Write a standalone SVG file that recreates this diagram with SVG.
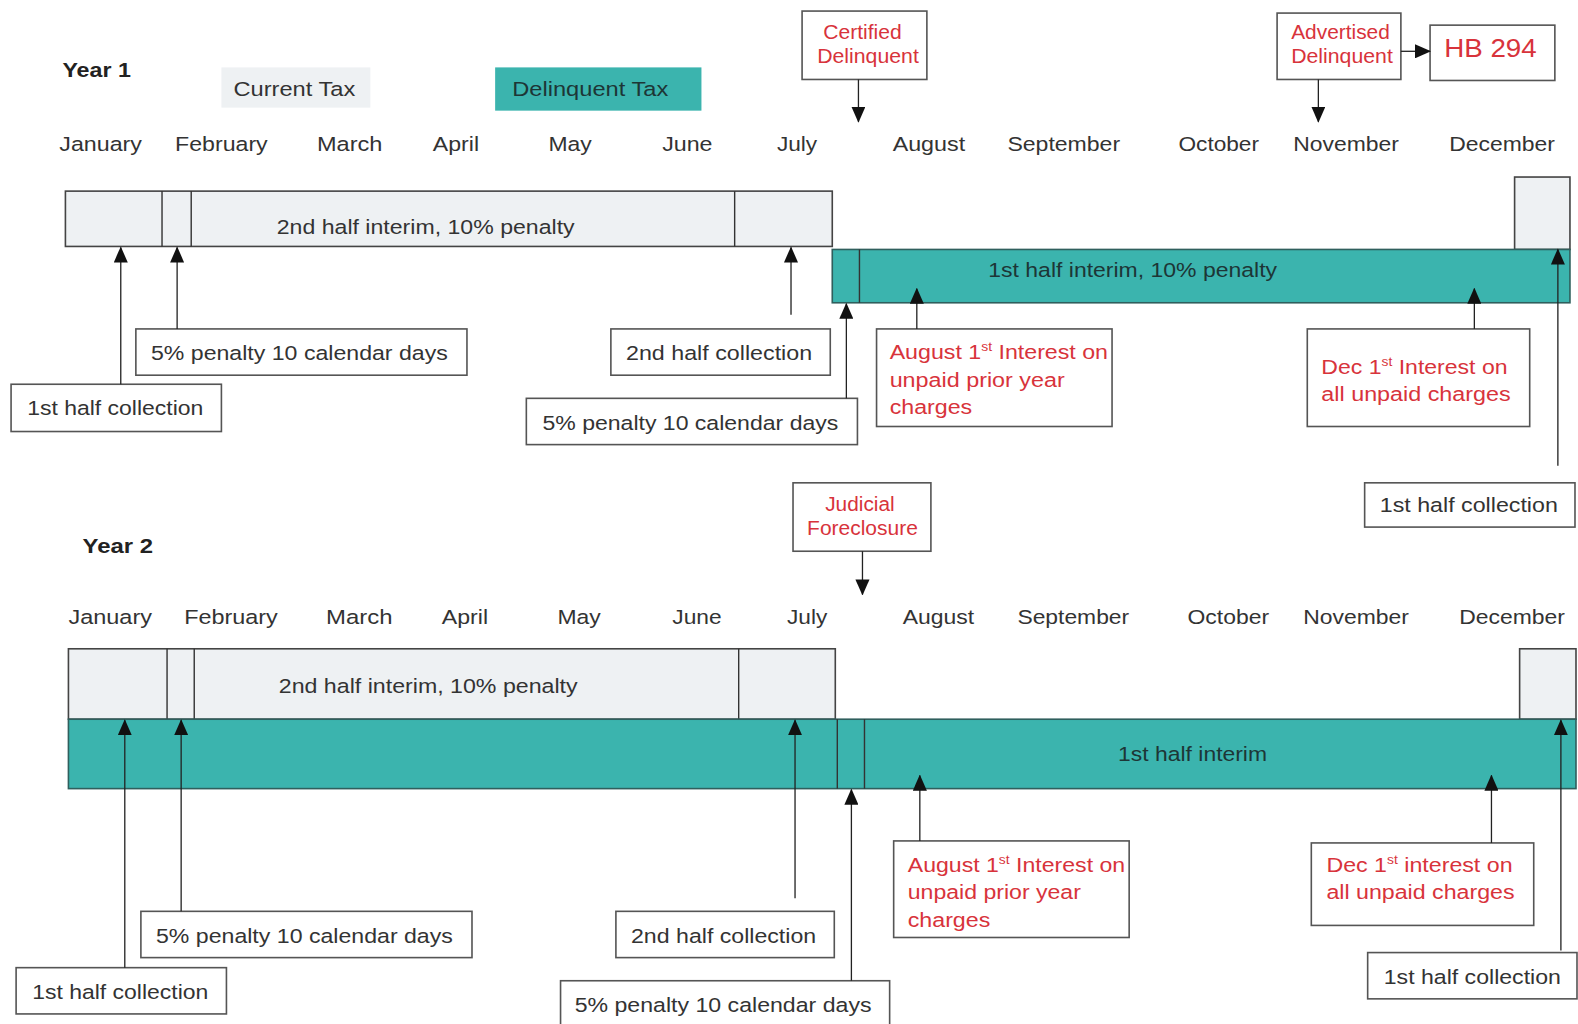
<svg xmlns="http://www.w3.org/2000/svg" width="1578" height="1024" viewBox="0 0 1578 1024">
<defs>
<marker id="ah" markerUnits="userSpaceOnUse" markerWidth="16" markerHeight="14" refX="15" refY="7" orient="auto" viewBox="0 0 16 14">
<path d="M0,0 L16,7 L0,14 Z" fill="#111"/>
</marker>
</defs>
<style>
text{font-family:"Liberation Sans",Arial,sans-serif;fill:#333;}
.m{font-size:21px;}
.t{font-size:21px;}
.r{font-size:20px;fill:#d8333b;}
.y{font-size:20px;font-weight:bold;fill:#222;}
.box{fill:#fff;stroke:#555;stroke-width:1.6;}
.lt{fill:#eef1f3;stroke:#444;stroke-width:1.6;}
.tl{fill:#3bb4ae;stroke:#2f5f5d;stroke-width:1.6;}
.dv{stroke:#333;stroke-width:1.4;}
.c{stroke:#222;stroke-width:1.3;fill:none;}
.sup{font-size:12px;}
</style>
<rect width="1578" height="1024" fill="#fff"/>
<g transform="scale(1.00638,1.00589)">
<!-- Year 1 -->
<g id="year1-label"><text class="y" x="62" y="77" textLength="68" lengthAdjust="spacingAndGlyphs">Year 1</text></g>
<g id="legend-current"><rect x="220" y="67" width="148" height="40" fill="#eef1f3"/><text class="t" x="232" y="95" textLength="121" lengthAdjust="spacingAndGlyphs">Current Tax</text></g>
<g id="legend-delinquent"><rect x="492" y="67" width="205" height="43" fill="#3bb4ae"/><text class="t" x="509" y="95" textLength="155" lengthAdjust="spacingAndGlyphs" style="fill:#1d3636">Delinquent Tax</text></g>
<g id="certified"><rect class="box" x="797" y="11" width="124" height="68"/><text class="r" x="818" y="39" textLength="78" lengthAdjust="spacingAndGlyphs">Certified</text><text class="r" x="812" y="63" textLength="101" lengthAdjust="spacingAndGlyphs">Delinquent</text></g>
<g id="advertised"><rect class="box" x="1269" y="13" width="123" height="66"/><text class="r" x="1283" y="39" textLength="98" lengthAdjust="spacingAndGlyphs">Advertised</text><text class="r" x="1283" y="63" textLength="101" lengthAdjust="spacingAndGlyphs">Delinquent</text></g>
<g id="hb294"><rect class="box" x="1421" y="25" width="124" height="55"/><text class="r" x="1435" y="57" textLength="92" lengthAdjust="spacingAndGlyphs" style="font-size:26px">HB 294</text></g>
<g id="months1">
<text class="m" x="59" y="150" textLength="82" lengthAdjust="spacingAndGlyphs">January</text>
<text class="m" x="174" y="150" textLength="92" lengthAdjust="spacingAndGlyphs">February</text>
<text class="m" x="315" y="150" textLength="65" lengthAdjust="spacingAndGlyphs">March</text>
<text class="m" x="430" y="150" textLength="46" lengthAdjust="spacingAndGlyphs">April</text>
<text class="m" x="545" y="150" textLength="43" lengthAdjust="spacingAndGlyphs">May</text>
<text class="m" x="658" y="150" textLength="50" lengthAdjust="spacingAndGlyphs">June</text>
<text class="m" x="772" y="150" textLength="40" lengthAdjust="spacingAndGlyphs">July</text>
<text class="m" x="887" y="150" textLength="72" lengthAdjust="spacingAndGlyphs">August</text>
<text class="m" x="1001" y="150" textLength="112" lengthAdjust="spacingAndGlyphs">September</text>
<text class="m" x="1171" y="150" textLength="80" lengthAdjust="spacingAndGlyphs">October</text>
<text class="m" x="1285" y="150" textLength="105" lengthAdjust="spacingAndGlyphs">November</text>
<text class="m" x="1440" y="150" textLength="105" lengthAdjust="spacingAndGlyphs">December</text>
</g>
<g id="bar1-second-half">
<rect class="lt" x="65" y="190" width="762" height="55"/>
<line class="dv" x1="161" y1="190" x2="161" y2="245"/><line class="dv" x1="190" y1="190" x2="190" y2="245"/><line class="dv" x1="730" y1="190" x2="730" y2="245"/>
<text class="t" x="275" y="233" textLength="296" lengthAdjust="spacingAndGlyphs">2nd half interim, 10% penalty</text>
</g>
<g id="bar1-dec"><rect class="lt" x="1505" y="176" width="55" height="72"/></g>
<g id="bar1-first-half">
<rect class="tl" x="827" y="248" width="733" height="53"/>
<line class="dv" x1="854" y1="248" x2="854" y2="301"/>
<text class="t" x="982" y="275" textLength="287" lengthAdjust="spacingAndGlyphs" style="fill:#1d3636">1st half interim, 10% penalty</text>
</g>
<g id="y1-penalty-a"><rect class="box" x="135" y="327" width="329" height="46"/><text class="t" x="150" y="358" textLength="295" lengthAdjust="spacingAndGlyphs">5% penalty 10 calendar days</text></g>
<g id="y1-first-collection"><rect class="box" x="11" y="382" width="209" height="47"/><text class="t" x="27" y="413" textLength="175" lengthAdjust="spacingAndGlyphs">1st half collection</text></g>
<g id="y1-second-collection"><rect class="box" x="607" y="327" width="218" height="46"/><text class="t" x="622" y="358" textLength="185" lengthAdjust="spacingAndGlyphs">2nd half collection</text></g>
<g id="y1-penalty-b"><rect class="box" x="523" y="396" width="329" height="46"/><text class="t" x="539" y="427" textLength="294" lengthAdjust="spacingAndGlyphs">5% penalty 10 calendar days</text></g>
<g id="y1-august"><rect class="box" x="871" y="327" width="234" height="97"/>
<text class="r" x="884" y="357" textLength="217" lengthAdjust="spacingAndGlyphs">August 1<tspan class="sup" dy="-8">st</tspan><tspan dy="8"> Interest on</tspan></text>
<text class="r" x="884" y="385" textLength="174" lengthAdjust="spacingAndGlyphs">unpaid prior year</text>
<text class="r" x="884" y="412" textLength="82" lengthAdjust="spacingAndGlyphs">charges</text></g>
<g id="y1-dec"><rect class="box" x="1299" y="327" width="221" height="97"/>
<text class="r" x="1313" y="372" textLength="185" lengthAdjust="spacingAndGlyphs">Dec 1<tspan class="sup" dy="-8">st</tspan><tspan dy="8"> Interest on</tspan></text>
<text class="r" x="1313" y="399" textLength="188" lengthAdjust="spacingAndGlyphs">all unpaid charges</text></g>
<g id="y1-first-collection-dec"><rect class="box" x="1356" y="480" width="209" height="44"/><text class="t" x="1371" y="509" textLength="177" lengthAdjust="spacingAndGlyphs">1st half collection</text></g>

<!-- Year 2 -->
<g id="year2-label"><text class="y" x="82" y="550" textLength="70" lengthAdjust="spacingAndGlyphs">Year 2</text></g>
<g id="judicial"><rect class="box" x="788" y="480" width="137" height="68"/><text class="r" x="820" y="508" textLength="69" lengthAdjust="spacingAndGlyphs">Judicial</text><text class="r" x="802" y="532" textLength="110" lengthAdjust="spacingAndGlyphs">Foreclosure</text></g>
<g id="months2">
<text class="m" x="68" y="620" textLength="83" lengthAdjust="spacingAndGlyphs">January</text>
<text class="m" x="183" y="620" textLength="93" lengthAdjust="spacingAndGlyphs">February</text>
<text class="m" x="324" y="620" textLength="66" lengthAdjust="spacingAndGlyphs">March</text>
<text class="m" x="439" y="620" textLength="46" lengthAdjust="spacingAndGlyphs">April</text>
<text class="m" x="554" y="620" textLength="43" lengthAdjust="spacingAndGlyphs">May</text>
<text class="m" x="668" y="620" textLength="49" lengthAdjust="spacingAndGlyphs">June</text>
<text class="m" x="782" y="620" textLength="40" lengthAdjust="spacingAndGlyphs">July</text>
<text class="m" x="897" y="620" textLength="71" lengthAdjust="spacingAndGlyphs">August</text>
<text class="m" x="1011" y="620" textLength="111" lengthAdjust="spacingAndGlyphs">September</text>
<text class="m" x="1180" y="620" textLength="81" lengthAdjust="spacingAndGlyphs">October</text>
<text class="m" x="1295" y="620" textLength="105" lengthAdjust="spacingAndGlyphs">November</text>
<text class="m" x="1450" y="620" textLength="105" lengthAdjust="spacingAndGlyphs">December</text>
</g>
<g id="bar2-second-half">
<rect class="lt" x="68" y="645" width="762" height="70"/>
<line class="dv" x1="166" y1="645" x2="166" y2="715"/><line class="dv" x1="193" y1="645" x2="193" y2="715"/><line class="dv" x1="734" y1="645" x2="734" y2="715"/>
<text class="t" x="277" y="689" textLength="297" lengthAdjust="spacingAndGlyphs">2nd half interim, 10% penalty</text>
</g>
<g id="bar2-dec"><rect class="lt" x="1510" y="645" width="56" height="70"/></g>
<g id="bar2-first-half">
<rect class="tl" x="68" y="715" width="1498" height="69"/>
<line class="dv" x1="832" y1="715" x2="832" y2="784"/><line class="dv" x1="859" y1="715" x2="859" y2="784"/>
<text class="t" x="1111" y="757" textLength="148" lengthAdjust="spacingAndGlyphs" style="fill:#1d3636">1st half interim</text>
</g>
<g id="y2-penalty-a"><rect class="box" x="140" y="906" width="329" height="46"/><text class="t" x="155" y="937" textLength="295" lengthAdjust="spacingAndGlyphs">5% penalty 10 calendar days</text></g>
<g id="y2-first-collection"><rect class="box" x="16" y="962" width="209" height="46"/><text class="t" x="32" y="993" textLength="175" lengthAdjust="spacingAndGlyphs">1st half collection</text></g>
<g id="y2-second-collection"><rect class="box" x="612" y="906" width="217" height="46"/><text class="t" x="627" y="937" textLength="184" lengthAdjust="spacingAndGlyphs">2nd half collection</text></g>
<g id="y2-penalty-b"><rect class="box" x="557" y="975" width="327" height="48"/><text class="t" x="571" y="1006" textLength="295" lengthAdjust="spacingAndGlyphs">5% penalty 10 calendar days</text></g>
<g id="y2-august"><rect class="box" x="888" y="836" width="234" height="96"/>
<text class="r" x="902" y="867" textLength="216" lengthAdjust="spacingAndGlyphs">August 1<tspan class="sup" dy="-8">st</tspan><tspan dy="8"> Interest on</tspan></text>
<text class="r" x="902" y="894" textLength="172" lengthAdjust="spacingAndGlyphs">unpaid prior year</text>
<text class="r" x="902" y="922" textLength="82" lengthAdjust="spacingAndGlyphs">charges</text></g>
<g id="y2-dec"><rect class="box" x="1303" y="838" width="221" height="82"/>
<text class="r" x="1318" y="867" textLength="185" lengthAdjust="spacingAndGlyphs">Dec 1<tspan class="sup" dy="-8">st</tspan><tspan dy="8"> interest on</tspan></text>
<text class="r" x="1318" y="894" textLength="187" lengthAdjust="spacingAndGlyphs">all unpaid charges</text></g>
<g id="y2-first-collection-dec"><rect class="box" x="1359" y="947" width="208" height="46"/><text class="t" x="1375" y="978" textLength="176" lengthAdjust="spacingAndGlyphs">1st half collection</text></g>

<g id="connectors">
<line class="c" x1="120" y1="382" x2="120" y2="246" marker-end="url(#ah)"/>
<line class="c" x1="176" y1="327" x2="176" y2="246" marker-end="url(#ah)"/>
<line class="c" x1="786" y1="313" x2="786" y2="246" marker-end="url(#ah)"/>
<line class="c" x1="841" y1="396" x2="841" y2="302" marker-end="url(#ah)"/>
<line class="c" x1="911" y1="327" x2="911" y2="287" marker-end="url(#ah)"/>
<line class="c" x1="1465" y1="327" x2="1465" y2="287" marker-end="url(#ah)"/>
<line class="c" x1="1548" y1="463" x2="1548" y2="248" marker-end="url(#ah)"/>
<line class="c" x1="853" y1="79" x2="853" y2="121" marker-end="url(#ah)"/>
<line class="c" x1="1310" y1="79" x2="1310" y2="121" marker-end="url(#ah)"/>
<line class="c" x1="1392" y1="51" x2="1421" y2="51" marker-end="url(#ah)"/>
<line class="c" x1="124" y1="962" x2="124" y2="716" marker-end="url(#ah)"/>
<line class="c" x1="180" y1="906" x2="180" y2="716" marker-end="url(#ah)"/>
<line class="c" x1="790" y1="893" x2="790" y2="716" marker-end="url(#ah)"/>
<line class="c" x1="846" y1="975" x2="846" y2="785" marker-end="url(#ah)"/>
<line class="c" x1="914" y1="836" x2="914" y2="771" marker-end="url(#ah)"/>
<line class="c" x1="1482" y1="838" x2="1482" y2="771" marker-end="url(#ah)"/>
<line class="c" x1="1551" y1="945" x2="1551" y2="716" marker-end="url(#ah)"/>
<line class="c" x1="857" y1="548" x2="857" y2="591" marker-end="url(#ah)"/>
</g>
</g>
</svg>
